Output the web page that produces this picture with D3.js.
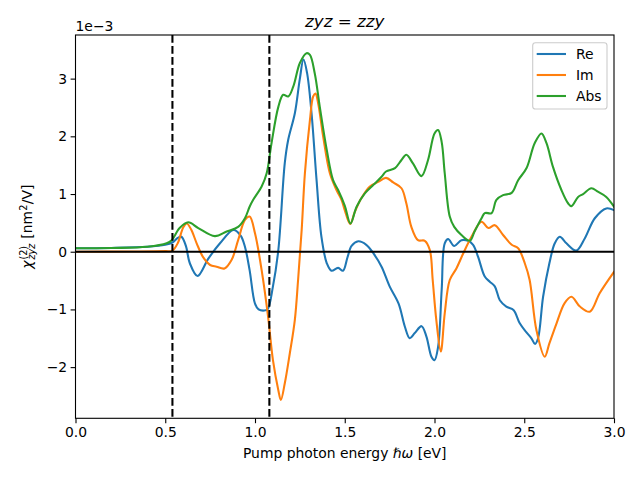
<!DOCTYPE html>
<html>
<head>
<meta charset="utf-8">
<script src="https://cdn.jsdelivr.net/npm/d3@7"></script>
<style>
  html, body { margin: 0; padding: 0; background: #fff; }
  svg { display: block; font-family: "DejaVu Sans", sans-serif; }
</style>
</head>
<body>
<svg id="chart" width="640" height="480"></svg>
<script>
// values are in units of 1e-3 nm^2/V
const reX = [0.00,0.20,0.40,0.50,0.54,0.57,0.59,0.615,0.637,0.68,0.74,0.805,0.88,0.92,0.944,0.97,1.0,1.02,1.05,1.07,1.10,1.13,1.166,1.185,1.222,1.25,1.27,1.29,1.315,1.343,1.37,1.40,1.426,1.463,1.49,1.515,1.538,1.575,1.62,1.66,1.705,1.75,1.80,1.835,1.862,1.89,1.928,1.955,1.983,2.0,2.02,2.04,2.057,2.076,2.11,2.15,2.187,2.215,2.243,2.28,2.308,2.336,2.364,2.40,2.44,2.475,2.51,2.54,2.56,2.577,2.605,2.64,2.67,2.698,2.735,2.79,2.837,2.893,2.957,3.0];
const reY = [0.06,0.065,0.085,0.12,0.16,0.24,0.26,0.1,-0.2,-0.42,-0.12,0.146,0.376,0.28,0.087,-0.32,-0.9,-1.0,-1.02,-1.0,-0.6,0.03,1.54,1.94,2.40,3.0,3.33,3.1,2.40,1.24,0.26,-0.2,-0.33,-0.28,-0.33,-0.1,0.1,0.18,0.12,-0.03,-0.26,-0.6,-0.9,-1.3,-1.5,-1.41,-1.29,-1.47,-1.82,-1.88,-1.65,-0.66,0.146,0.22,0.1,0.2,0.19,0.12,-0.09,-0.43,-0.52,-0.6,-0.84,-0.95,-1.01,-1.24,-1.39,-1.5,-1.6,-1.5,-0.78,-0.2,0.146,0.26,0.146,0.02,0.23,0.58,0.75,0.72];

const imX = [0,0.3,0.5,0.54,0.57,0.60,0.62,0.645,0.675,0.71,0.75,0.786,0.83,0.87,0.906,0.944,0.97,1.0,1.037,1.073,1.10,1.13,1.144,1.166,1.194,1.222,1.24,1.26,1.278,1.306,1.324,1.337,1.352,1.38,1.417,1.454,1.482,1.50,1.53,1.556,1.593,1.64,1.686,1.73,1.77,1.816,1.843,1.871,1.908,1.946,1.974,1.99,2.01,2.035,2.057,2.085,2.122,2.16,2.206,2.262,2.3,2.336,2.382,2.43,2.466,2.503,2.53,2.568,2.614,2.64,2.68,2.725,2.763,2.81,2.865,2.92,3.0];
const imY = [0.0,0.003,0.01,0.02,0.15,0.42,0.49,0.38,0.146,-0.09,-0.23,-0.26,-0.29,-0.14,0.2,0.55,0.61,0.32,-0.32,-1.13,-1.88,-2.40,-2.57,-2.28,-1.76,-1.18,-0.49,0.376,1.36,2.28,2.69,2.74,2.57,1.99,1.36,1.07,0.9,0.72,0.48,0.69,0.93,1.13,1.21,1.28,1.2,1.1,0.84,0.43,0.2,0.19,0.03,-0.49,-1.18,-1.73,-1.07,-0.49,-0.29,-0.03,0.26,0.52,0.41,0.46,0.29,0.12,0.06,-0.2,-0.49,-1.36,-1.82,-1.59,-1.24,-0.89,-0.78,-0.95,-1.04,-0.72,-0.35];

const absX = [0,0.2,0.4,0.508,0.536,0.58,0.628,0.684,0.776,0.842,0.906,0.944,0.97,0.99,1.037,1.065,1.092,1.13,1.157,1.185,1.213,1.25,1.287,1.306,1.333,1.361,1.40,1.435,1.463,1.50,1.532,1.566,1.612,1.66,1.705,1.73,1.78,1.816,1.843,1.88,1.927,1.964,2.0,2.02,2.04,2.057,2.085,2.11,2.15,2.197,2.223,2.262,2.28,2.318,2.345,2.382,2.43,2.466,2.513,2.558,2.596,2.624,2.66,2.707,2.744,2.763,2.8,2.828,2.874,2.91,2.957,3.0];
const absY = [0.06,0.065,0.085,0.146,0.2,0.41,0.51,0.41,0.27,0.35,0.43,0.58,0.78,0.9,1.13,1.36,1.88,2.51,2.72,2.69,2.86,3.27,3.44,3.41,3.09,2.51,1.76,1.24,1.07,0.80,0.49,0.78,1.01,1.16,1.3,1.39,1.45,1.59,1.68,1.53,1.31,1.59,2.05,2.11,1.9,1.36,0.61,0.43,0.29,0.19,0.35,0.58,0.67,0.67,0.9,0.98,1.02,1.24,1.45,1.88,2.05,1.88,1.47,1.07,0.84,0.79,0.95,1.0,1.1,1.04,0.95,0.78];

const vLines = [0.54, 1.08];
const xTicks = [0, 0.5, 1.0, 1.5, 2.0, 2.5, 3.0];
const yTicks = [-2, -1, 0, 1, 2, 3];
const seriesNames = ["Re", "Im", "Abs"];
const seriesColors = ["#1f77b4", "#ff7f0e", "#2ca02c"];

const svg = d3.select("#chart");
const L = 75.5, R = 614, T = 35, B = 418.3;
const x = d3.scaleLinear().domain([0, 3]).range([L, R]);
const y = d3.scaleLinear().domain([-2.887, 3.756]).range([B, T]);

svg.append("defs").append("clipPath").attr("id", "clip")
  .append("rect").attr("x", L).attr("y", T).attr("width", R - L).attr("height", B - T);

const plot = svg.append("g").attr("clip-path", "url(#clip)");
const line = d3.line().x(d => x(d[0])).y(d => y(d[1])).curve(d3.curveCatmullRom.alpha(0.5));
const series = [[reX, reY], [imX, imY], [absX, absY]];
series.forEach((s, i) => {
  const pts = s[0].map((v, k) => [v, s[1][k]]);
  plot.append("path").datum(pts).attr("d", line)
    .attr("fill", "none").attr("stroke", seriesColors[i])
    .attr("stroke-width", 2.08).attr("stroke-linejoin", "round").attr("stroke-linecap", "square");
});

// zero line
plot.append("line").attr("x1", L).attr("x2", R).attr("y1", y(0)).attr("y2", y(0))
  .attr("stroke", "#000").attr("stroke-width", 2.08);
// dashed vertical lines
vLines.forEach(v => {
  plot.append("line").attr("x1", x(v)).attr("x2", x(v)).attr("y1", T).attr("y2", B)
    .attr("stroke", "#000").attr("stroke-width", 2.08).attr("stroke-dasharray", "7.7,3.3");
});

const minus = s => s.replace("-", "\u2212");
const xAxis = svg.append("g").attr("transform", `translate(0,${B})`)
  .call(d3.axisBottom(x).tickValues(xTicks).tickFormat(d3.format(".1f")).tickSize(4.9).tickPadding(3.5));
const yAxis = svg.append("g").attr("transform", `translate(${L},0)`)
  .call(d3.axisLeft(y).tickValues(yTicks).tickFormat(d => minus(String(d))).tickSize(4.9).tickPadding(3.5));
[xAxis, yAxis].forEach(a => {
  a.select(".domain").remove();
  a.selectAll("line").attr("stroke", "#000").attr("stroke-width", 1.1);
  a.selectAll("text").attr("font-size", 13.9).attr("fill", "#000").attr("font-family", "DejaVu Sans");
});

svg.append("rect").attr("x", L).attr("y", T).attr("width", R - L).attr("height", B - T)
  .attr("fill", "none").attr("stroke", "#000").attr("stroke-width", 1.1);

// offset text
svg.append("text").attr("x", L).attr("y", 31).attr("font-size", 13.9).text("1e\u22123");

// title
const title = svg.append("text").attr("x", (L + R) / 2).attr("y", 27).attr("text-anchor", "middle").attr("font-size", 16.7);
title.append("tspan").attr("font-style", "italic").text("zyz");
title.append("tspan").text(" = ");
title.append("tspan").attr("font-style", "italic").text("zzy");

// x label
const xl = svg.append("text").attr("x", (L + R) / 2).attr("y", 458).attr("text-anchor", "middle").attr("font-size", 13.9);
xl.append("tspan").text("Pump photon energy ");
xl.append("tspan").attr("font-style", "italic").text("\u210F\u03C9");
xl.append("tspan").text(" [eV]");

// y label
const yg = svg.append("g").attr("transform", `translate(32,${(T + B) / 2}) rotate(-90)`);
const inner = yg.append("g");
const chi = inner.append("text").attr("font-size", 13.9).attr("font-style", "italic").attr("x", 0).text("\u03C7");
let cx = chi.node().getComputedTextLength() + 0.8;
const sup = inner.append("text").attr("font-size", 9.7).attr("x", cx).attr("y", -5.5).text("(2)");
const sub = inner.append("text").attr("font-size", 9.7).attr("font-style", "italic").attr("x", cx).attr("y", 3.2).text("zyz");
cx += Math.max(sup.node().getComputedTextLength(), sub.node().getComputedTextLength()) + 0.5;
const r1 = inner.append("text").attr("font-size", 13.9).attr("x", cx).text("\u00A0[nm");
cx += r1.node().getComputedTextLength() + 0.3;
const s2 = inner.append("text").attr("font-size", 9.7).attr("x", cx).attr("y", -5.5).text("2");
cx += s2.node().getComputedTextLength() + 0.3;
const r2 = inner.append("text").attr("font-size", 13.9).attr("x", cx).text("/V]");
cx += r2.node().getComputedTextLength();
inner.attr("transform", `translate(${-cx / 2},0)`);

// legend
const lg = svg.append("g");
lg.append("rect").attr("x", 532.7).attr("y", 42.7).attr("width", 74.3).attr("height", 66.3)
  .attr("rx", 2.8).attr("fill", "#fff").attr("fill-opacity", 0.8)
  .attr("stroke", "#cccccc").attr("stroke-width", 1.1);
seriesNames.forEach((n, i) => {
  const yy = 54 + i * 21;
  lg.append("line").attr("x1", 536.7).attr("x2", 566).attr("y1", yy).attr("y2", yy)
    .attr("stroke", seriesColors[i]).attr("stroke-width", 2.08);
  lg.append("text").attr("x", 576).attr("y", yy + 5).attr("font-size", 13.9).text(n);
});
</script>
</body>
</html>
